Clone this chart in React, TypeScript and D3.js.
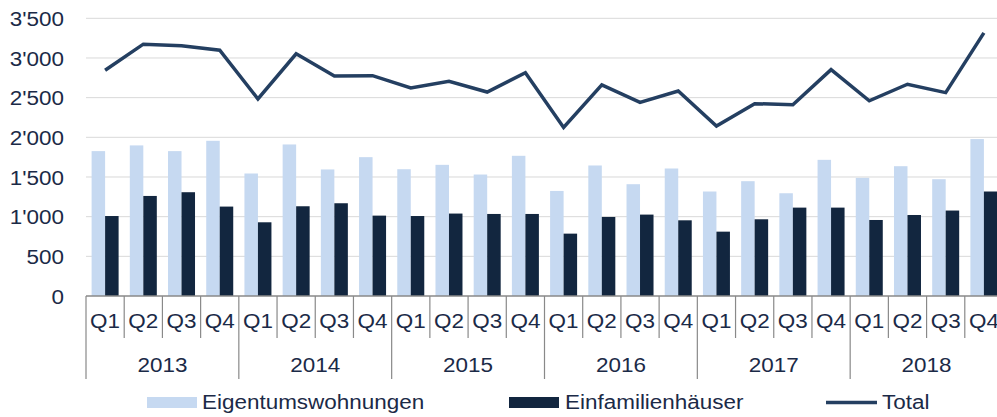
import React from "react";
import * as d3 from "d3";

const years = ["2013", "2014", "2015", "2016", "2017", "2018"];
const quarters = ["Q1", "Q2", "Q3", "Q4"];
const eigentum = [1826, 1898, 1826, 1956, 1544, 1910, 1595, 1750, 1598, 1653, 1531, 1767, 1324, 1645, 1409, 1607, 1317, 1447, 1295, 1716, 1489, 1636, 1472, 1978];
const einfamilien = [1008, 1261, 1308, 1127, 929, 1131, 1169, 1013, 1008, 1039, 1034, 1034, 786, 996, 1026, 954, 811, 967, 1114, 1114, 958, 1021, 1077, 1317];
const total = [2846, 3174, 3153, 3098, 2483, 3052, 2774, 2777, 2622, 2706, 2571, 2815, 2125, 2660, 2441, 2584, 2142, 2424, 2411, 2853, 2461, 2669, 2563, 3317];
const yTicks = [0, 500, 1000, 1500, 2000, 2500, 3000, 3500];
const seriesNames = ["Eigentumswohnungen", "Einfamilienhäuser", "Total"];

const W = 997, H = 417;
const left = 86, right = 1003, top = 18.3, bottom = 296;
const textColor = "#1b2a47";
const lightColor = "#c6d9f1";
const darkColor = "#12263f";
const lineColor = "#243f61";
const font = "'Liberation Sans', Arial, sans-serif";
const FS = 21;
const SX = 1.07;

function T(props: { x: number; y: number; anchor?: "start" | "middle" | "end"; dy?: string; children: React.ReactNode }) {
  return (
    <g transform={`translate(${props.x},${props.y}) scale(${SX},1)`}>
      <text x={0} y={0} dy={props.dy} textAnchor={props.anchor || "start"} fontSize={FS} fill={textColor}>{props.children}</text>
    </g>
  );
}

export default function App() {
  const cats = years.flatMap((y) => quarters.map((q) => `${y}-${q}`));
  const x = d3.scaleBand<string>().domain(cats).range([left, right]);
  const y = d3.scaleLinear().domain([0, 3500]).range([bottom, top]);
  const bw = 13.5;
  const line = d3.line<number>()
    .x((_, i) => (x(cats[i]) as number) + x.bandwidth() / 2)
    .y((d) => y(d));
  const fmt = (v: number) => {
    const s = String(v);
    return s.length > 3 ? s.slice(0, s.length - 3) + "'" + s.slice(-3) : s;
  };
  const step = x.bandwidth();
  return (
    <svg width={W} height={H} style={{ position: "absolute", left: 0, top: 0 }} fontFamily={font}>
      <rect x={0} y={0} width={W} height={H} fill="#fff" />
      {yTicks.map((t) => (
        <g key={t}>
          {t > 0 && <line x1={left} x2={W} y1={y(t)} y2={y(t)} stroke="#d9d9d9" strokeWidth={1} />}
          <T x={64} y={y(t)} dy="0.36em" anchor="end">{fmt(t)}</T>
        </g>
      ))}
      {cats.map((c, i) => {
        const cx = (x(c) as number) + step / 2;
        return (
          <g key={c}>
            <rect x={cx - bw} y={y(eigentum[i])} width={bw} height={bottom - y(eigentum[i])} fill={lightColor} />
            <rect x={cx} y={y(einfamilien[i])} width={bw} height={bottom - y(einfamilien[i])} fill={darkColor} />
          </g>
        );
      })}
      <path d={line(total) || ""} fill="none" stroke={lineColor} strokeWidth={3.5} strokeLinejoin="miter" />
      <line x1={left} x2={W} y1={bottom} y2={bottom} stroke="#898989" strokeWidth={1.5} />
      {cats.map((c, i) => {
        const x0 = x(c) as number;
        const isYear = i % 4 === 0;
        return (
          <g key={"t" + c}>
            <line x1={x0} x2={x0} y1={bottom} y2={isYear ? 379 : 338} stroke="#898989" strokeWidth={1.2} />
            <T x={x0 + step / 2} y={328} anchor="middle">{quarters[i % 4]}</T>
          </g>
        );
      })}
      {years.map((yr, j) => {
        const x0 = x(cats[j * 4]) as number;
        return <T key={yr} x={x0 + step * 2} y={371.5} anchor="middle">{yr}</T>;
      })}
      <g>
        <rect x={147} y={397} width={50} height={11} fill={lightColor} />
        <T x={202} y={409.3}>{seriesNames[0]}</T>
        <rect x={509} y={397} width={50} height={11} fill={darkColor} />
        <T x={565} y={409.3}>{seriesNames[1]}</T>
        <line x1={826} x2={877} y1={402.5} y2={402.5} stroke={lineColor} strokeWidth={3.5} />
        <T x={882} y={409.3}>{seriesNames[2]}</T>
      </g>
    </svg>
  );
}
